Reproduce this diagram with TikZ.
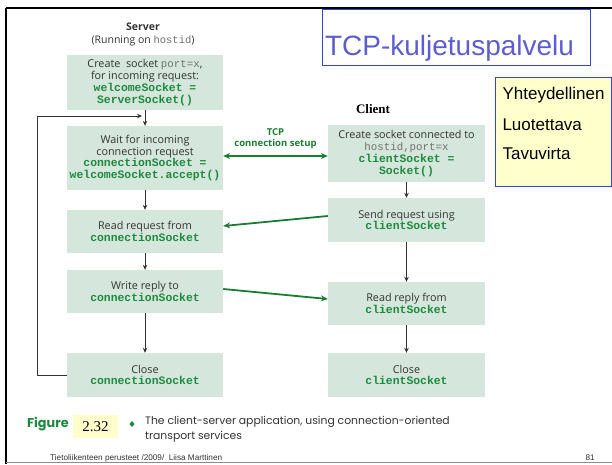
\documentclass[tikz,border=0pt]{standalone}
\usepackage{fontspec}
\setmainfont{Open Sans}
\newfontfamily\monofont{Liberation Mono}
\newfontfamily\arialfont{Liberation Sans}
\newfontfamily\seriffont{Liberation Serif}
\newfontfamily\capfont{Poppins}
\usetikzlibrary{arrows.meta}

\definecolor{boxfill}{HTML}{D5E6DC}
\definecolor{codegreen}{HTML}{1E8A3E}
\definecolor{arrowgreen}{HTML}{1A7D33}
\definecolor{titleblue}{HTML}{5C5ED0}
\definecolor{frameblue}{HTML}{3347D1}
\definecolor{noteyellow}{HTML}{FFFFCC}
\definecolor{paramgray}{HTML}{707070}
\definecolor{bodytext}{HTML}{333333}

\newcommand\code[1]{{\monofont\bfseries\fontsize{11.4}{11.8}\selectfont\color{codegreen}#1}}
\newcommand\param[1]{{\monofont\color{paramgray}#1}}

\tikzset{
  stepbox/.style={fill=boxfill, inner sep=0pt, align=center, text=bodytext,
    font=\fontsize{10.8}{11.8}\selectfont},
  flow/.style={-{Stealth[length=5pt,width=4.5pt]}, line width=0.8pt, draw=black!80},
  msg/.style={-{Stealth[length=7pt,width=6pt]}, line width=1.8pt, draw=arrowgreen},
  msgboth/.style={{Stealth[length=7pt,width=6pt]}-{Stealth[length=7pt,width=6pt]}, line width=1.8pt, draw=arrowgreen},
  notetext/.style={anchor=base west, font=\arialfont\fontsize{17}{17}\selectfont},
}

\begin{document}
\begin{tikzpicture}[x=1pt, y=-1pt]
\useasboundingbox (0,0) rectangle (612,464);

% slide frame
\draw[line width=2pt] (6,8) -- (612,8);
\draw[line width=2pt] (6,8) -- (6,464);
\draw[line width=1pt, draw=black!45] (6,462.5) -- (612,462.5);

% title
\draw[frameblue, line width=0.9pt] (322,9) rectangle (590,65);
\node[anchor=base, text=titleblue, font=\arialfont\fontsize{28}{28}\selectfont] (title) at (449.5,55) {TCP-kuljetuspalvelu};

% properties note
\draw[frameblue, fill=noteyellow, line width=0.9pt] (495,77) rectangle (611,186);
\node[notetext] (p1) at (499,99) {Yhteydellinen};
\node[notetext] (p2) at (499,130) {Luotettava};
\node[notetext] (p3) at (499,159) {Tavuvirta};

% column headings
\node[font=\bfseries\fontsize{10.5}{10.5}\selectfont, text=bodytext] (server) at (143,27) {Server};
\node[font=\fontsize{10.5}{10.5}\selectfont, text=bodytext] (running) at (143,41) {(Running on \param{hostid})};
\node[font=\seriffont\bfseries\fontsize{13}{13}\selectfont] (client) at (373,109) {Client};

% server steps
\node[stepbox, minimum width=156pt, minimum height=55pt] (s1) at (145,82.5)
  {Create\ \ socket \param{port=x},\\for incoming request:\\\code{welcomeSocket =}\\\code{ServerSocket()}};
\node[stepbox, minimum width=156pt, minimum height=64pt] (s2) at (145,158)
  {Wait for incoming\\connection request\\\code{connectionSocket =}\\\code{welcomeSocket.accept()}};
\node[stepbox, minimum width=156pt, minimum height=43pt] (s3) at (145,231.5)
  {Read request from\\\code{connectionSocket}};
\node[stepbox, minimum width=156pt, minimum height=43pt] (s4) at (145,291.5)
  {Write reply to\\\code{connectionSocket}};
\node[stepbox, minimum width=156pt, minimum height=44pt] (s5) at (145,375)
  {Close\\\code{connectionSocket}};

% client steps
\node[stepbox, minimum width=157pt, minimum height=57pt] (c1) at (406.5,153.5)
  {Create socket connected to\\\param{hostid,port=x}\\\code{clientSocket =}\\\code{Socket()}};
\node[stepbox, minimum width=157pt, minimum height=44pt] (c2) at (406.5,220)
  {Send request using\\\code{clientSocket}};
\node[stepbox, minimum width=157pt, minimum height=43pt] (c3) at (406.5,303.5)
  {Read reply from\\\code{clientSocket}};
\node[stepbox, minimum width=157pt, minimum height=44pt] (c4) at (406.5,375)
  {Close\\\code{clientSocket}};

% control flow
\draw[flow] (s1) -- (s2);
\draw[flow] (s2) -- (s3);
\draw[flow] (s3) -- (s4);
\draw[flow] (s4) -- (s5);
\draw[flow] (c1) -- (c2);
\draw[flow] (c2) -- (c3);
\draw[flow] (c3) -- (c4);
\coordinate (looptop) at (37,116);
\coordinate (loopend) at (142,116);
\draw[flow] (s5.west) -| (looptop) -- (loopend);

% messages between client and server
\node[align=center, text=arrowgreen, font=\bfseries\fontsize{9.5}{11}\selectfont] (tcp) at (275.5,139) {TCP\\connection setup};
\draw[msgboth] ([yshift=2pt]s2.east) -- ([yshift=2pt]s2.east -| c1.west);
\draw[msg] ([yshift=4pt]c2.west) -- ([yshift=5.5pt]s3.east);
\draw[msg] ([yshift=2.5pt]s4.east) -- ([yshift=4.5pt]c3.west);

% caption
\node[anchor=west, text=codegreen, font=\capfont\bfseries\fontsize{12.8}{12.8}\selectfont, inner sep=0pt] (figlabel) at (27,424) {Figure};
\node[fill=noteyellow, minimum width=45pt, minimum height=23pt, inner sep=0pt, font=\seriffont\fontsize{15}{15}\selectfont] (fignum) at (95.5,426.5) {2.32};
\fill[codegreen] (132,421) -- (134.5,424) -- (132,427) -- (129.5,424) -- cycle;
\node[anchor=north west, align=left, inner sep=0pt, text=bodytext, font=\capfont\fontsize{10.8}{15}\selectfont] (caption) at (145,416)
  {The client-server application, using connection-oriented\\transport services};

% footer
\node[anchor=base west, inner sep=0pt, text=bodytext, font=\arialfont\fontsize{8.2}{8.2}\selectfont] (footer) at (50,460)
  {Tietoliikenteen perusteet /2009/\ \ Liisa Marttinen};
\node[anchor=base east, inner sep=0pt, text=bodytext, font=\arialfont\fontsize{8.2}{8.2}\selectfont] (page) at (595,460) {81};
\end{tikzpicture}
\end{document}
